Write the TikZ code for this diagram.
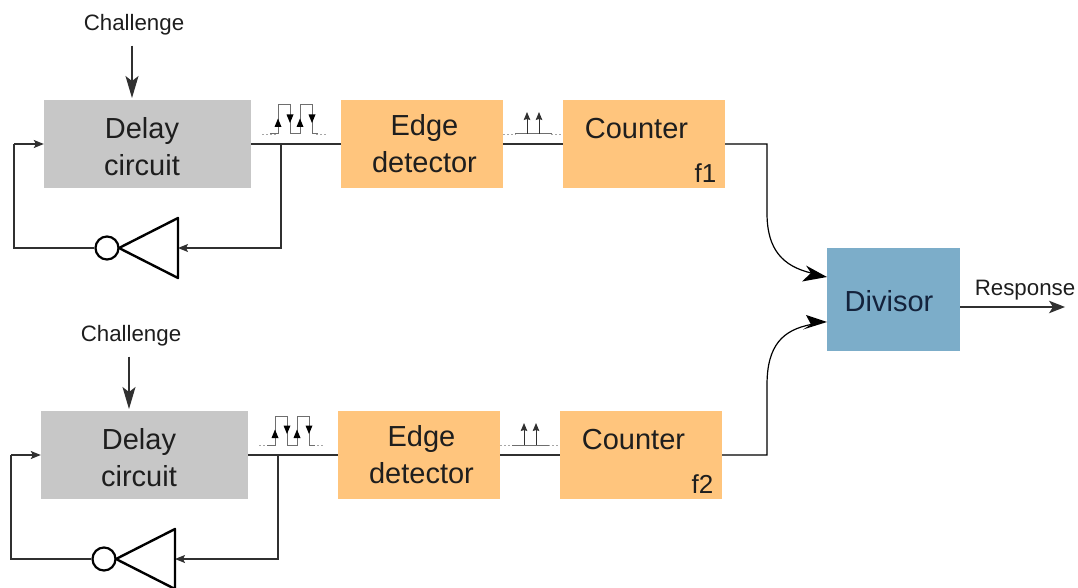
\documentclass[tikz,border=0pt]{standalone}
\usepackage{fontspec}
\setmainfont{Liberation Sans}
\usetikzlibrary{arrows.meta,calc}
\definecolor{greybox}{HTML}{C7C7C7}
\definecolor{orangebox}{HTML}{FFC57D}
\definecolor{bluebox}{HTML}{7CADC9}
\definecolor{wire}{HTML}{303030}
\definecolor{inktext}{HTML}{1E1E1E}
\definecolor{divink}{HTML}{14233C}
\tikzset{
  box/.style={inner sep=0pt,align=center,text=inktext,font=\fontsize{29}{37}\selectfont},
  delaybox/.style={box,fill=greybox,minimum width=207pt,minimum height=88pt},
  edgebox/.style={box,fill=orangebox,minimum width=162pt,minimum height=88pt},
  lab/.style={inner sep=0pt,text=inktext,font=\fontsize{22.3}{26}\selectfont},
  wireline/.style={draw=wire,line width=1.2pt},
  bigarrow/.style={wireline,-{Stealth[length=22pt,width=13pt,inset=5pt]}},
  midarrow/.style={wireline,-{Stealth[length=10pt,width=8pt,inset=2pt]}},
  smallarrow/.style={wireline,-{Stealth[length=10pt,width=8pt,inset=2pt]}},
  pulse/.style={draw=wire!70,line width=1pt},
  dotted line/.style={draw=gray!70,line width=.8pt,dash pattern=on 1.5pt off 2.5pt},
  tiphead/.style={fill=black,draw=none},
  invline/.style={draw=black,line width=2.4pt,line join=round}
}
\newcommand{\phaseunit}[3]{%
\begin{scope}[shift={(#2,#3)}]
  \node[lab] (chal#1) at (134,25) {Challenge};
  \node[delaybox] (delay#1) at (147.5,144) {};
  \node[box] (delaytext#1) at (142,147) {Delay\\circuit};
  \node[edgebox] (edge#1) at (422,144) {};
  \node[box,anchor=center] (edgetext#1) at (424.5,144) {Edge\\detector};
  \node[edgebox] (count#1) at (644,144) {};
  \node[box] (counttext#1) at (636.5,129) {Counter};
  \node[box,font=\fontsize{26}{30}\selectfont] (flab#1) at (705.5,173.5) {f#1};
  \coordinate (chaltip#1) at (132,98);
  \coordinate (join#1) at (281,144);
  \coordinate (bendR#1) at (281,248);
  \coordinate (bendL#1) at (14,248);
  \coordinate (bendT#1) at (14,144);
  \coordinate (trimid#1) at (178,248);
  \coordinate (tritop#1) at (178,218);
  \coordinate (tribot#1) at (178,278);
  \coordinate (triapex#1) at (119,248);
  \node[circle,draw=black,line width=2.2pt,fill=white,minimum size=23pt,inner sep=0pt] (bubble#1) at (107,248) {};
  % connectors
  \draw[bigarrow] (chal#1.south -| chaltip#1) ++(0,10) -- (chaltip#1);
  \draw[wireline] (delay#1.east) -- (edge#1.west);
  \draw[wireline] (edge#1.east) -- (count#1.west);
  \draw[midarrow] (join#1) -- (bendR#1) -- (trimid#1);
  \draw[wireline] (bubble#1.west) -- (bendL#1) -- (bendT#1);
  \draw[smallarrow] (bendT#1) -- (delay#1.west);
  \draw[invline] (triapex#1) -- (tritop#1) -- (tribot#1) -- cycle;
  % square-wave sketch
  \draw[dotted line] (262,134) -- (278,134) (316,134) -- (328,134);
  \draw[pulse] (270,134) -- (278,134) -- (278,105) -- (290,105) -- (290,134) -- (300,134) -- (300,105) -- (312,105) -- (312,134) -- (318,134);
  \foreach \x in {278,300} \fill[tiphead] (\x,118.5) -- (\x-3.5,127) -- (\x+3.5,127) -- cycle;
  \foreach \x in {290,312} \fill[tiphead] (\x,123) -- (\x-3.5,114.5) -- (\x+3.5,114.5) -- cycle;
  % edge sketch
  \draw[dotted line] (503,134) -- (516,134) (551,134) -- (563,134);
  \draw[pulse] (515,134) -- (552,134);
  \draw[wireline,line width=1pt,-{Stealth[length=8pt,width=6.5pt,inset=1pt]}] (527,134) -- (527,112);
  \draw[wireline,line width=1pt,-{Stealth[length=8pt,width=6.5pt,inset=1pt]}] (539,134) -- (539,112);
\end{scope}}
\begin{document}
\begin{tikzpicture}[x=1pt,y=-1pt]
\useasboundingbox (0,0) rectangle (1078,588);
\phaseunit{1}{0}{0}
\phaseunit{2}{-3}{311}
\node[box,fill=bluebox,minimum width=133pt,minimum height=103pt] (div) at (893.5,299.5) {};
\node[box,text=divink] (divtext) at (889,301) {Divisor};
\node[lab] (resp) at (1025,290) {Response};
\coordinate (respend) at (1065,307);
\coordinate (in1) at (827,277);
\coordinate (in2) at (827,322);
\coordinate (neck1) at (811,273);
\coordinate (neck2) at (811,324.5);
\draw[wireline,draw=black] (count1.east) -- (767,144) -- (767,213) .. controls (767,250) and (783,266) .. (neck1);
\draw[wireline,draw=black] (count2.east) -- (767,455) -- (767,385) .. controls (767,345) and (783,330) .. (neck2);
\fill[black] (in1) -- (806,265.5) -- (neck1) -- (802,281.5) -- cycle;
\fill[black] (in2) -- (806,315) -- (neck2) -- (803,329.5) -- cycle;
\draw[wireline,-{Stealth[length=16pt,width=12.5pt,inset=4pt]}] (div.east |- respend) -- (respend);
\end{tikzpicture}
\end{document}
